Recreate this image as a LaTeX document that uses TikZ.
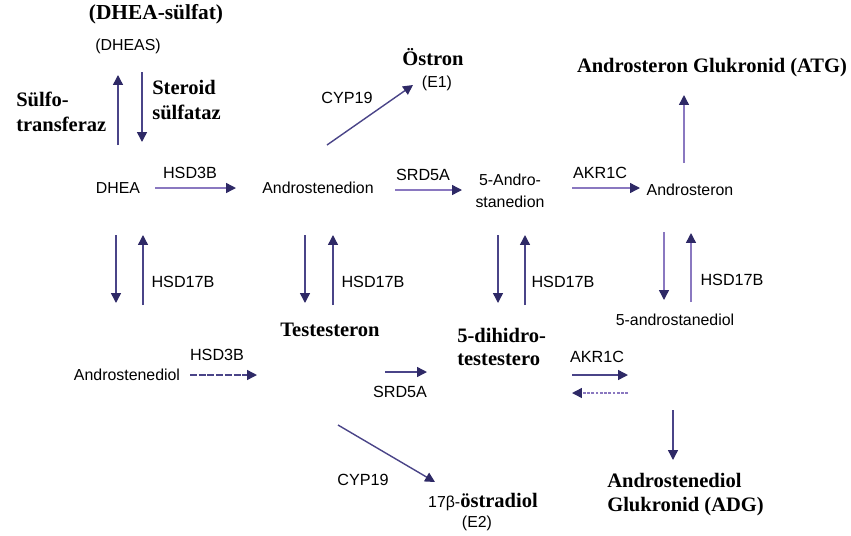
\documentclass[tikz,border=0pt]{standalone}
\usepackage{fontspec}
\setmainfont{Liberation Serif}
\setsansfont{Liberation Sans}
\usetikzlibrary{arrows.meta}
\definecolor{PathDark}{HTML}{2E2966}
\definecolor{PathMid}{HTML}{4A4488}
\definecolor{PathLight}{HTML}{8A78C0}

\begin{document}
\begin{tikzpicture}[
    x=0.025cm, y=-0.025cm,
    >={Triangle[length=7pt,width=7pt,color=PathDark]},
    reac/.style  = {->, draw=PathMid, line width=1pt},
    reacl/.style = {->, draw=PathLight, line width=1pt},
    cmp/.style   = {font=\sffamily\fontsize{11.3}{15.5}\selectfont, inner sep=0pt},
    enz/.style   = {font=\sffamily\fontsize{11.5}{14}\selectfont, inner sep=0pt},
    prod/.style  = {font=\rmfamily\bfseries\fontsize{14.6}{17.5}\selectfont, inner sep=0pt},
  ]
\useasboundingbox (0,0) rectangle (851,535);
% defining coordinates
% sulfation
\coordinate (SU1) at (118,145);
\coordinate (SU2) at (118,75);
\coordinate (SD1) at (142,72);
\coordinate (SD2) at (142,142);

% upper row
\coordinate (H1a) at (155,188);
\coordinate (H1b) at (236,188);
\coordinate (C1a) at (327,145);
\coordinate (C1b) at (413,85);
\coordinate (R1a) at (395,190);
\coordinate (R1b) at (462,190);
\coordinate (K1a) at (572,188);
\coordinate (K1b) at (640,188);
\coordinate (G1a) at (684,163);
\coordinate (G1b) at (684,95);

% HSD17B pairs
\coordinate (D1a) at (116,235);
\coordinate (D1b) at (116,303);
\coordinate (U1a) at (143,305);
\coordinate (U1b) at (143,235);
\coordinate (D2a) at (305,235);
\coordinate (D2b) at (305,303);
\coordinate (U2a) at (333,305);
\coordinate (U2b) at (333,235);
\coordinate (D3a) at (498,235);
\coordinate (D3b) at (498,303);
\coordinate (U3a) at (525,305);
\coordinate (U3b) at (525,235);
\coordinate (D4a) at (664,232);
\coordinate (D4b) at (664,300);
\coordinate (U4a) at (691,302);
\coordinate (U4b) at (691,233);

% lower row
\coordinate (H2a) at (190,375);
\coordinate (H2b) at (257,375);
\coordinate (R2a) at (385,372);
\coordinate (R2b) at (427,372);
\coordinate (K2a) at (572,375);
\coordinate (K2b) at (628,375);
\coordinate (K3a) at (628,393);
\coordinate (K3b) at (572,393);
\coordinate (C2a) at (338,425);
\coordinate (C2b) at (435,482);
\coordinate (G2a) at (673,410);
\coordinate (G2b) at (673,460);

% compounds
\node[prod, font=\rmfamily\bfseries\fontsize{15.2}{18}\selectfont] (dheasulf) at (156,14) {(DHEA-sülfat)};
\node[cmp] (dheas) at (128,46) {(DHEAS)};
\node[cmp] (dhea) at (118,188) {DHEA};
\node[cmp] (andion) at (318,188) {Androstenedion};
\node[prod] (ostron) at (433,57) {Östron};
\node[cmp] (e1) at (437,83) {(E1)};
\node[cmp, align=center] (andro5) at (510,191) {5-Andro-\\stanedion};
\node[cmp] (androsteron) at (690,190) {Androsteron};
\node[prod] (atg) at (712,68) {Androsteron Glukronid (ATG)};
\node[cmp] (andiol) at (127,375) {Androstenediol};
\node[prod] (testo) at (330,330) {Testesteron};
\node[prod, align=left, anchor=west, font=\rmfamily\bfseries\fontsize{14.6}{16.3}\selectfont] (dht) at (457,347) {5-dihidro-\\testestero};
\node[cmp] (andiol5) at (675,320) {5-androstanediol};
\node[prod] (e2) at (483,502) {{\sffamily\mdseries\fontsize{11.3}{13}\selectfont 17β-}östradiol};
\node[cmp] (e2b) at (477,523) {(E2)};
\node[prod, align=left, anchor=west, font=\rmfamily\bfseries\fontsize{14.6}{17}\selectfont] (adg) at (607,495) {Androstenediol\\Glukronid (ADG)};

% enzymes
\node[prod, align=left, anchor=west, font=\rmfamily\bfseries\fontsize{14.6}{17.7}\selectfont] (sulfo) at (16,112) {Sülfo-\\transferaz};
\node[prod, align=left, anchor=west, font=\rmfamily\bfseries\fontsize{14.6}{17.7}\selectfont] (sulfat) at (152,100) {Steroid\\sülfataz};
\node[enz] (hsd3a) at (190,173) {HSD3B};
\node[enz] (cyp19a) at (347,98) {CYP19};
\node[enz] (srd5a) at (423,175) {SRD5A};
\node[enz] (akr1a) at (600,173) {AKR1C};
\node[enz] (hsd17a) at (183,282) {HSD17B};
\node[enz] (hsd17b) at (373,282) {HSD17B};
\node[enz] (hsd17c) at (563,282) {HSD17B};
\node[enz] (hsd17d) at (732,280) {HSD17B};
\node[enz] (hsd3b) at (217,355) {HSD3B};
\node[enz] (srd5b) at (400,392) {SRD5A};
\node[enz] (akr1b) at (597,357) {AKR1C};
\node[enz] (cyp19b) at (363,480) {CYP19};

% reactions
\draw[reac] (SU1) -- (SU2);
\draw[reac] (SD1) -- (SD2);
\draw[reacl] (H1a) -- (H1b);
\draw[reac] (C1a) -- (C1b);
\draw[reacl] (R1a) -- (R1b);
\draw[reacl] (K1a) -- (K1b);
\draw[reacl] (G1a) -- (G1b);

\foreach \i in {1,2,3}
  {
    \draw[reac] (D\i a) -- (D\i b);
    \draw[reac] (U\i a) -- (U\i b);
  }
\draw[reacl] (D4a) -- (D4b);
\draw[reacl] (U4a) -- (U4b);

\draw[reac, dash pattern=on 5pt off 1.2pt] (H2a) -- (H2b);
\draw[reac] (R2a) -- (R2b);
\draw[reac] (K2a) -- (K2b);
\draw[reacl, dash pattern=on 2pt off 1pt] (K3a) -- (K3b);
\draw[reac] (C2a) -- (C2b);
\draw[reac] (G2a) -- (G2b);

\end{tikzpicture}
\end{document}
